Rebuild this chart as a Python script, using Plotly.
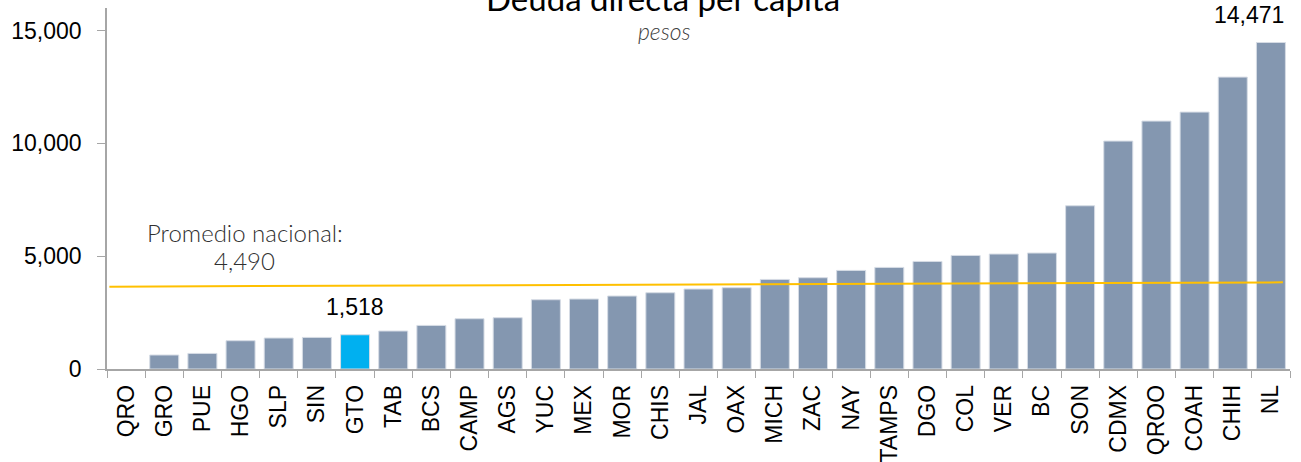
import plotly.graph_objects as go

states = ["QRO", "GRO", "PUE", "HGO", "SLP", "SIN", "GTO", "TAB", "BCS", "CAMP",
          "AGS", "YUC", "MEX", "MOR", "CHIS", "JAL", "OAX", "MICH", "ZAC", "NAY",
          "TAMPS", "DGO", "COL", "VER", "BC", "SON", "CDMX", "QROO", "COAH", "CHIH", "NL"]
debt = [0, 620, 690, 1254, 1373, 1400, 1518, 1684, 1932, 2229,
        2273, 3070, 3101, 3234, 3380, 3544, 3602, 3970, 4045, 4369,
        4502, 4767, 5033, 5095, 5140, 7235, 10102, 10988, 11387, 12937, 14471]
highlight = "GTO"
avg_line_x = [0.002, 0.994]
avg_line_y = [3650, 3840]
avg_label = ["Promedio nacional:", "4,490"]
y_ticks = [0, 5000, 10000, 15000]
y_ticktext = ["0", "5,000", "10,000", "15,000"]

colors = ["#00B0F0" if s == highlight else "#8497B0" for s in states]
outline_w = [0 if v == 0 else 1 for v in debt]

fig = go.Figure()
fig.add_trace(go.Bar(x=states, y=debt,
                     marker=dict(color=colors, line=dict(color="#D6DCE5", width=outline_w)),
                     showlegend=False, hoverinfo="x+y"))
fig.add_trace(go.Scatter(x=avg_line_x, y=avg_line_y, xaxis="x2", mode="lines",
                         line=dict(color="#FFC000", width=2), showlegend=False))

tick_font = dict(family="Liberation Sans", size=23, color="#000000")
fig.update_layout(
    width=1301, height=462,
    margin=dict(l=107, r=11, t=8, b=93),
    plot_bgcolor="white", paper_bgcolor="white",
    bargap=0.24,
    xaxis=dict(type="category", tickangle=-90, tickfont=tick_font, showline=True,
               linecolor="#A6A6A6", linewidth=1.5, ticks="outside", tickson="boundaries",
               ticklen=7, tickcolor="#A6A6A6", showgrid=False, automargin=False,
               ticklabelstandoff=5),
    xaxis2=dict(overlaying="x", range=[0, 1], visible=False),
    yaxis=dict(range=[0, 16000], tickvals=y_ticks, ticktext=y_ticktext, tickfont=tick_font,
               showline=True, linecolor="#A6A6A6", linewidth=1.5, ticks="outside", ticklen=8,
               tickcolor="#A6A6A6", showgrid=False, zeroline=False, automargin=False,
               ticklabelstandoff=11),
    font=dict(family="Liberation Sans"),
)

fig.add_annotation(x=(663 - 107) / 1183, y=1.0, xref="paper", yref="paper", yanchor="bottom",
                   xanchor="center", yshift=-12, text="Deuda directa per cápita", showarrow=False,
                   font=dict(family="Lato", size=33, color="#000000"))
fig.add_annotation(x=(664 - 107) / 1183, y=1.0, xref="paper", yref="paper", yanchor="middle",
                   xanchor="center", yshift=-23, text="<i>pesos</i>", showarrow=False,
                   font=dict(family="Lato", size=23, color="#404040", weight=300))
fig.add_annotation(x="NL", y=debt[-1], yanchor="bottom", xshift=-22, yshift=13,
                   text=f"{debt[-1]:,}", showarrow=False,
                   font=dict(family="Liberation Sans", size=23, color="#000"))
gi = states.index(highlight)
fig.add_annotation(x=highlight, y=debt[gi], yanchor="bottom", yshift=13,
                   text=f"{debt[gi]:,}", showarrow=False,
                   font=dict(family="Liberation Sans", size=23, color="#000"))
fig.add_annotation(x=(245 - 107) / 1183, xref="paper", xanchor="center",
                   y=(369 - 232) / 361 * 16000,
                   text=avg_label[0], showarrow=False, yanchor="middle",
                   font=dict(family="Lato", size=24, color="#303030", weight=300))
fig.add_annotation(x=(244 - 107) / 1183, xref="paper", xanchor="center",
                   y=(369 - 260) / 361 * 16000,
                   text=avg_label[1], showarrow=False, yanchor="middle",
                   font=dict(family="Lato", size=24, color="#303030", weight=300))

fig.write_html("out.html", config={"displayModeBar": False},
               post_script="document.body.style.margin='0';")
